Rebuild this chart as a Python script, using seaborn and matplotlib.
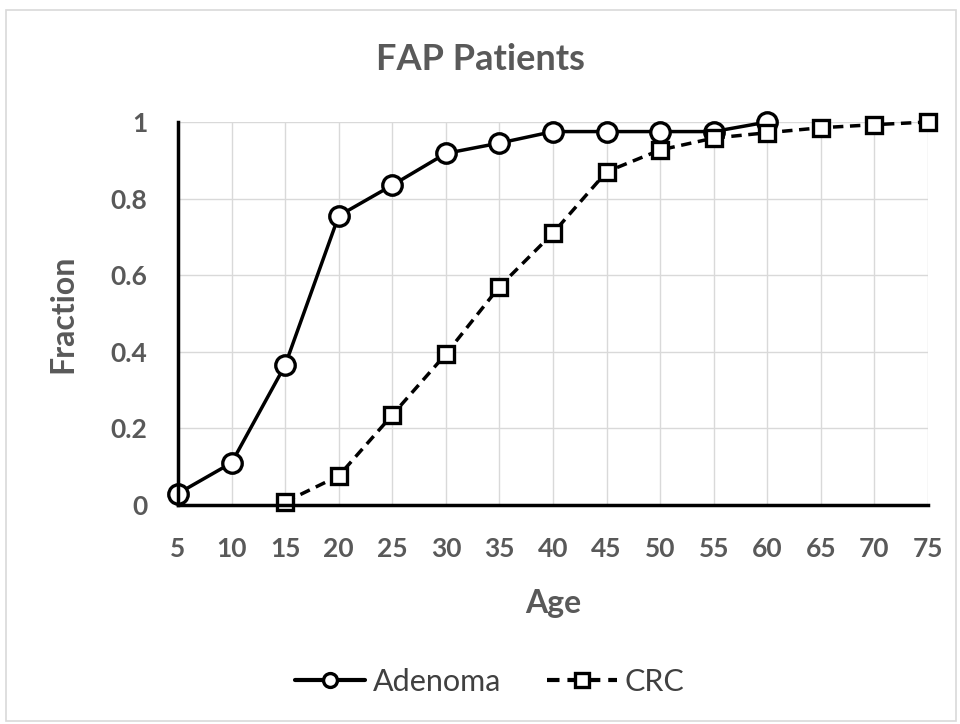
import pandas as pd
import matplotlib
matplotlib.use("Agg")
import matplotlib.pyplot as plt
import seaborn as sns
from matplotlib.patches import Rectangle

# data
ages = [5, 10, 15, 20, 25, 30, 35, 40, 45, 50, 55, 60, 65, 70, 75]
adenoma_ages = [5, 10, 15, 20, 25, 30, 35, 40, 45, 50, 55, 60]
adenoma = [0.03, 0.11, 0.365, 0.755, 0.835, 0.918, 0.945, 0.975, 0.975, 0.975, 0.975, 1.0]
crc_ages = [15, 20, 25, 30, 35, 40, 45, 50, 55, 60, 65, 70, 75]
crc = [0.008, 0.076, 0.235, 0.394, 0.57, 0.71, 0.87, 0.927, 0.958, 0.972, 0.985, 0.993, 1.0]
y_ticks = [0, 0.2, 0.4, 0.6, 0.8, 1]
y_labels = ["0", "0.2", "0.4", "0.6", "0.8", "1"]

df = pd.concat([
    pd.DataFrame({"Age": adenoma_ages, "Fraction": adenoma, "Series": "Adenoma"}),
    pd.DataFrame({"Age": crc_ages, "Fraction": crc, "Series": "CRC"}),
])

sns.set_style("white")
plt.rcParams["font.family"] = ["Lato", "DejaVu Sans"]

gray = "#595959"
fig = plt.figure(figsize=(9.6, 7.24), dpi=100)
ax = fig.add_axes([0.1854, 0.3025, 0.7813, 0.529])

# outer chart border like the Excel chart area
fig.patches.append(Rectangle((0.006, 0.004), 0.99, 0.982, transform=fig.transFigure,
                             fill=False, edgecolor="#d9d9d9", linewidth=1.2))

sns.lineplot(
    data=df, x="Age", y="Fraction", hue="Series", style="Series",
    palette={"Adenoma": "black", "CRC": "black"},
    dashes={"Adenoma": "", "CRC": (3.0, 1.9)},
    markers={"Adenoma": "o", "CRC": "s"},
    linewidth=2.5, markersize=12, markeredgewidth=2.4,
    markerfacecolor="white", markeredgecolor="black",
    ax=ax, legend=False, clip_on=False,
)
lines = ax.get_lines()
lines[0].set_markersize(14)

ax.set_xlim(5, 75)
ax.set_ylim(0, 1)
ax.set_xticks(ages)
ax.set_xticklabels([str(a) for a in ages])
ax.set_yticks(y_ticks)
ax.set_yticklabels(y_labels)

ax.grid(True, color="#d9d9d9", linewidth=1.0)
ax.set_axisbelow(True)
for side in ["top", "right"]:
    ax.spines[side].set_visible(False)
for side in ["left", "bottom"]:
    ax.spines[side].set_color("black")
    ax.spines[side].set_linewidth(2.5)

ax.tick_params(axis="x", length=0, pad=23, labelsize=19, labelcolor=gray)
ax.tick_params(axis="y", length=0, pad=22, labelsize=19, labelcolor=gray)
for lbl in ax.get_xticklabels() + ax.get_yticklabels():
    lbl.set_fontweight("bold")

ax.set_xlabel("Age", fontsize=23, fontweight="bold", color=gray, labelpad=20)
ax.set_ylabel("Fraction", fontsize=23, fontweight="bold", color=gray, labelpad=24)
fig.text(0.5, 0.918, "FAP Patients", ha="center", va="center",
         fontsize=26, fontweight="bold", color=gray)

# legend at the bottom
handles = [lines[0], lines[1]]
leg = fig.legend(handles, ["Adenoma", "CRC"], loc="center", bbox_to_anchor=(0.51, 0.058),
                 ncol=2, frameon=False, fontsize=22, handlelength=2.3,
                 columnspacing=1.5, handletextpad=0.25)
for t in leg.get_texts():
    t.set_color("#404040")
for h in leg.legend_handles:
    h.set_markersize(10)
    h.set_linewidth(3)

fig.savefig("out.png", dpi=100)
